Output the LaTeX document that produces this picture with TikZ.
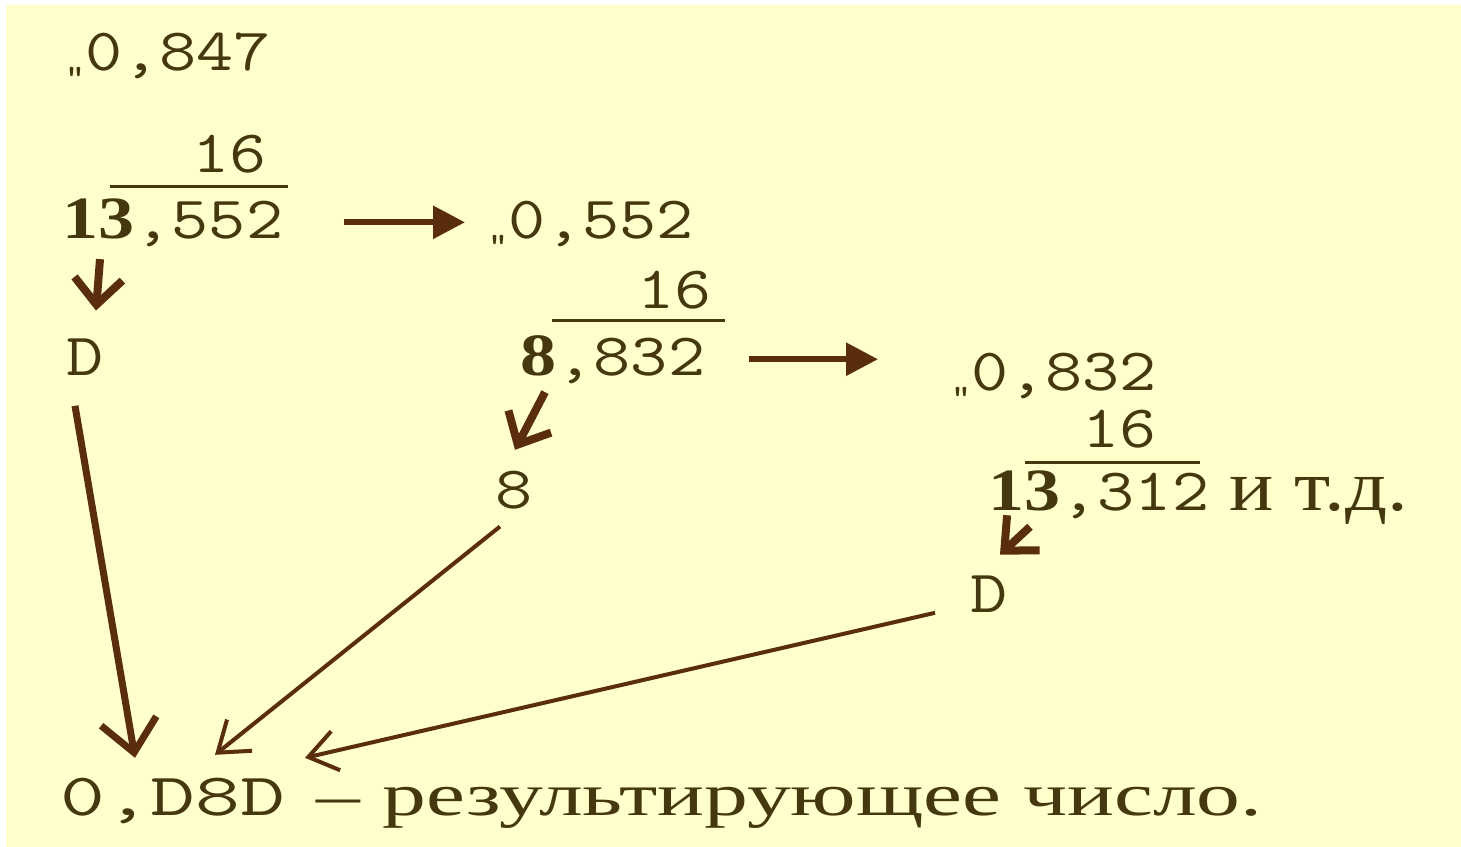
\documentclass[tikz,border=0pt]{standalone}
\usepackage{fontspec}
\usepackage{graphicx}
\newfontfamily\cyrfnt{Liberation Serif}
\usetikzlibrary{arrows.meta}

\definecolor{cream}{HTML}{FFFFCC}
\definecolor{inkbrown}{HTML}{45380F}
\definecolor{arrowbrown}{HTML}{5A2D0C}

\newcommand\wide[1]{\scalebox{1.2}[1]{#1}}
\newcommand\lowmark{{\fontsize{8}{8}\selectfont „}}
\newcommand\bolddigits[1]{{\cyrfnt\bfseries #1}}

\begin{document}
\begin{tikzpicture}[
    x=0.25pt, y=-0.25pt,
    num/.style={font=\ttfamily\fontsize{15}{18}\selectfont, text=inkbrown,
        inner sep=0pt, anchor=base west},
    rule/.style={draw=inkbrown, line width=0.75pt},
    hbar/.style={draw=arrowbrown, line width=1.5pt,
        -{Triangle[length=8pt,width=8pt]}},
    tick/.style={draw=arrowbrown, line width=2pt,
        -{Straight Barb[length=6.5pt,width=12pt]}},
    bigarrow/.style={draw=arrowbrown, line width=1.75pt,
        -{Straight Barb[length=8pt,width=14pt]}},
    thinarrow/.style={draw=arrowbrown, line width=1pt,
        -{Straight Barb[length=7pt,width=10pt]}}
]

% background
\useasboundingbox (0,0) rectangle (1461,847);
\fill[white] (0,0) rectangle (1461,847);
\fill[cream] (6,5) rectangle (1461,847);

% first step
\node[num] (m847) at (64,70) {\wide{\lowmark0,847}};
\node[num] (s1) at (192,172) {\wide{16}};
\draw[rule] (110,186) -- (288,186);
\node[num] (p1) at (62,238) {\wide{\bolddigits{13},552}};
\node[num] (m552) at (487,238) {\wide{\lowmark0,552}};
\node[num] (d1) at (66,375) {\wide{D}};

% second step
\node[num] (s2) at (637,308) {\wide{16}};
\draw[rule] (552,320) -- (725,320);
\node[num] (p2) at (520,375) {\wide{\bolddigits{8},832}};
\node[num] (m832) at (950,390) {\wide{\lowmark0,832}};
\node[num] (d2) at (495,508) {\wide{8}};

% third step
\node[num] (s3) at (1082,447) {\wide{16}};
\draw[rule] (1025,462) -- (1200,462);
\node[num] (p3) at (988,510) {\wide{\bolddigits{13},312}{\cyrfnt\fontsize{18}{20}\selectfont\scalebox{1.15}[1]{\ и т.д.}}};
\node[num] (d3) at (970,612) {\wide{D}};

% result
\node[num] (res) at (60,815)
    {\scalebox{1.45}[1]{0,D8D}\hspace{8pt}{\cyrfnt\scalebox{1.46}[1]{– результирующее число.}}};

\draw[hbar, shorten <=15pt, shorten >=5.5pt] (p1.east) -- (p1.east -| m552.west);
\draw[hbar, shorten <=10.75pt, shorten >=18pt] (p2.east) -- (p2.east -| m832.west);

\draw[tick] ([xshift=9.5pt,yshift=-3pt]p1.south west) -- ([xshift=7.5pt,yshift=6.75pt]d1.north west);
\draw[tick] ([xshift=6.25pt,yshift=-2pt]p2.south west) -- ([xshift=5pt,yshift=5pt]d2.north west);
\draw[tick] ([xshift=10.5pt,yshift=-0.5pt]p3.south west) -- ([xshift=7.5pt,yshift=5pt]d3.north west);

\draw[bigarrow] ([xshift=2.25pt,yshift=-7.5pt]d1.south west) -- ([xshift=18.75pt,yshift=4.75pt]res.north west);
\draw[thinarrow] ([xshift=1.25pt,yshift=-4.25pt]d2.south west) -- ([xshift=38.75pt,yshift=5.5pt]res.north west);
\draw[thinarrow] ([xshift=-8.75pt]d3.south west) -- ([xshift=61.25pt,yshift=4.75pt]res.north west);

\end{tikzpicture}
\end{document}
